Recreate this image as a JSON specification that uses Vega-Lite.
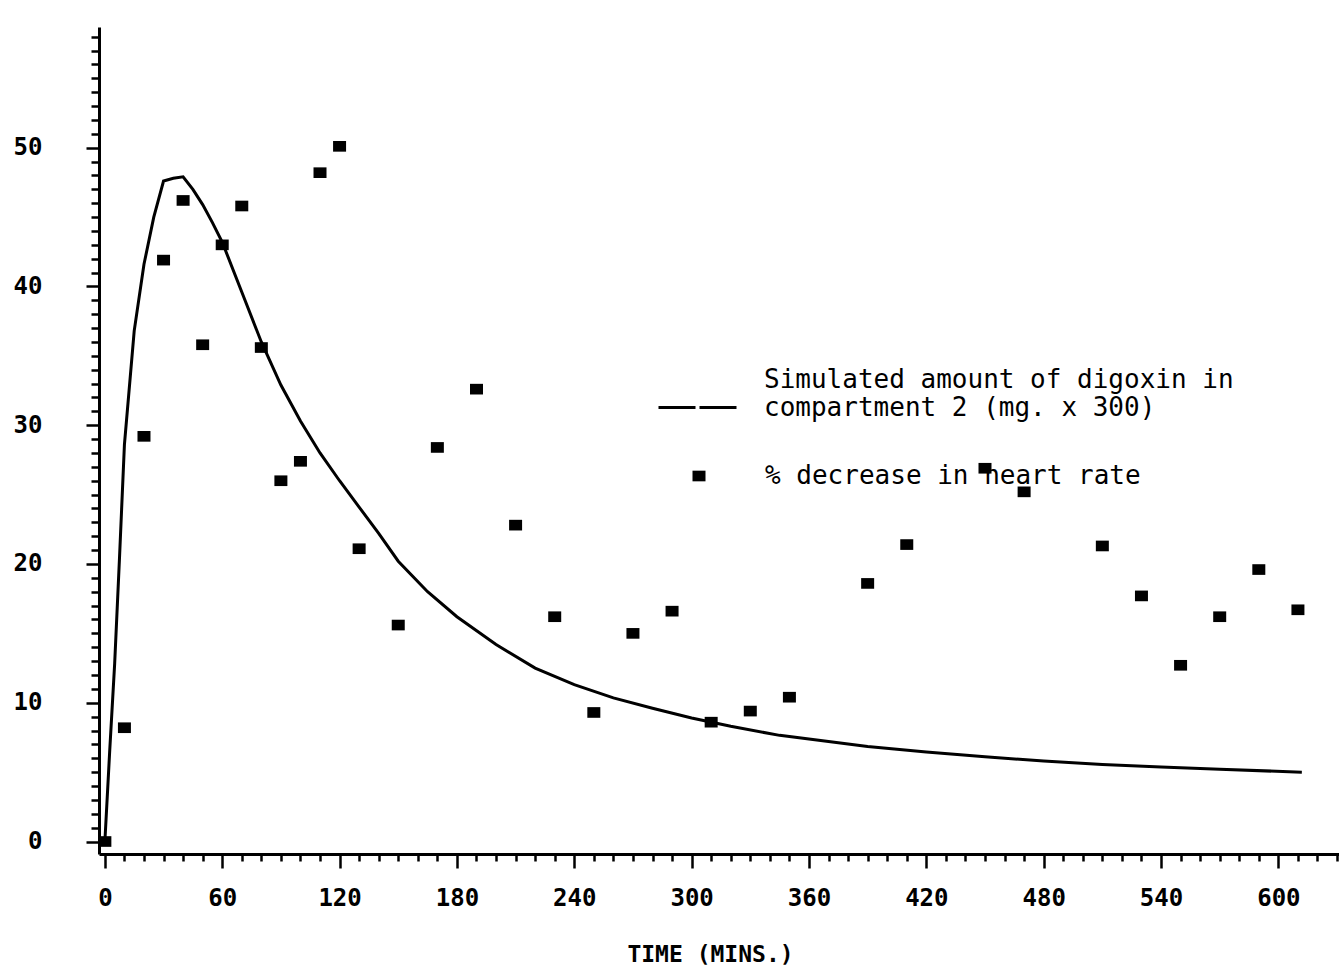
{
  "$schema": "https://vega.github.io/schema/vega-lite/v6.json",
  "width": 1240,
  "height": 827,
  "autosize": {"type": "none"},
  "padding": {"left": 99, "top": 27, "right": 0, "bottom": 113},
  "background": "white",
  "config": {
    "font": "DejaVu Sans Mono",
    "view": {"stroke": null},
    "axis": {"grid": false, "domainColor": "black", "tickColor": "black", "labelColor": "black", "titleColor": "black"}
  },
  "datasets": {
    "simulated": [
      {"t": 0, "v": 0}, {"t": 2.5, "v": 6.6}, {"t": 5, "v": 12.8}, {"t": 7.5, "v": 20.5},
      {"t": 10, "v": 28.6}, {"t": 15, "v": 36.8}, {"t": 20, "v": 41.6}, {"t": 25, "v": 45.0},
      {"t": 30, "v": 47.6}, {"t": 35, "v": 47.8}, {"t": 40, "v": 47.9}, {"t": 45, "v": 47.0},
      {"t": 50, "v": 45.9}, {"t": 55, "v": 44.6}, {"t": 60, "v": 43.2}, {"t": 70, "v": 39.6},
      {"t": 80, "v": 36.0}, {"t": 90, "v": 32.9}, {"t": 100, "v": 30.3}, {"t": 110, "v": 28.0},
      {"t": 120, "v": 26.0}, {"t": 130, "v": 24.1}, {"t": 140, "v": 22.2}, {"t": 150, "v": 20.2},
      {"t": 165, "v": 18.0}, {"t": 180, "v": 16.2}, {"t": 200, "v": 14.2}, {"t": 220, "v": 12.5},
      {"t": 240, "v": 11.3}, {"t": 260, "v": 10.35}, {"t": 280, "v": 9.6}, {"t": 300, "v": 8.9},
      {"t": 320, "v": 8.3}, {"t": 345, "v": 7.65}, {"t": 370, "v": 7.2}, {"t": 390, "v": 6.85},
      {"t": 420, "v": 6.45}, {"t": 450, "v": 6.1}, {"t": 480, "v": 5.8}, {"t": 510, "v": 5.55},
      {"t": 540, "v": 5.37}, {"t": 570, "v": 5.2}, {"t": 612, "v": 5.0}
    ],
    "heartRate": [
      {"t": 0, "v": 0}, {"t": 10, "v": 8.2}, {"t": 20, "v": 29.2}, {"t": 30, "v": 41.9},
      {"t": 40, "v": 46.2}, {"t": 50, "v": 35.8}, {"t": 60, "v": 43.0}, {"t": 70, "v": 45.8},
      {"t": 80, "v": 35.6}, {"t": 90, "v": 26.0}, {"t": 100, "v": 27.4}, {"t": 110, "v": 48.2},
      {"t": 120, "v": 50.1}, {"t": 130, "v": 21.1}, {"t": 150, "v": 15.6}, {"t": 170, "v": 28.4},
      {"t": 190, "v": 32.6}, {"t": 210, "v": 22.8}, {"t": 230, "v": 16.2}, {"t": 250, "v": 9.3},
      {"t": 270, "v": 15.0}, {"t": 290, "v": 16.6}, {"t": 310, "v": 8.6}, {"t": 330, "v": 9.4},
      {"t": 350, "v": 10.4}, {"t": 390, "v": 18.6}, {"t": 410, "v": 21.4}, {"t": 450, "v": 26.9},
      {"t": 470, "v": 25.2}, {"t": 510, "v": 21.3}, {"t": 530, "v": 17.7}, {"t": 550, "v": 12.7},
      {"t": 570, "v": 16.2}, {"t": 590, "v": 19.6}, {"t": 610, "v": 16.7}
    ]
  },
  "encoding": {
    "x": {
      "field": "t",
      "type": "quantitative",
      "scale": {"domain": [-3, 631], "nice": false, "zero": false},
      "axis": {
        "values": [0,10,20,30,40,50,60,70,80,90,100,110,120,130,140,150,160,170,180,190,200,210,220,230,240,250,260,270,280,290,300,310,320,330,340,350,360,370,380,390,400,410,420,430,440,450,460,470,480,490,500,510,520,530,540,550,560,570,580,590,600,610,620,630],
        "labelExpr": "datum.value % 60 === 0 ? datum.label : ''",
        "tickSize": {"condition": {"test": "datum.value % 60 === 0", "value": 14}, "value": 7},
        "tickWidth": 2.5,
        "domainWidth": 3,
        "labelFont": "DejaVu Sans Mono",
        "labelFontWeight": "bold",
        "labelFontSize": 24,
        "labelPadding": 18,
        "labelFlush": false,
        "labelOverlap": false,
        "title": "TIME (MINS.)",
        "titleFont": "DejaVu Sans Mono",
        "titleFontWeight": "bold",
        "titleFontSize": 23,
        "titleX": 611,
        "titleY": 100,
        "titleBaseline": "middle"
      }
    },
    "y": {
      "field": "v",
      "type": "quantitative",
      "scale": {"domain": [-0.9, 58.7], "nice": false, "zero": false},
      "axis": {
        "values": [0,1,2,3,4,5,6,7,8,9,10,11,12,13,14,15,16,17,18,19,20,21,22,23,24,25,26,27,28,29,30,31,32,33,34,35,36,37,38,39,40,41,42,43,44,45,46,47,48,49,50,51,52,53,54,55,56,57,58],
        "labelExpr": "datum.value % 10 === 0 ? datum.label : ''",
        "tickSize": {"condition": {"test": "datum.value % 10 === 0", "value": 13}, "value": 8},
        "tickWidth": 2.5,
        "domainWidth": 3,
        "labelFont": "DejaVu Sans Mono",
        "labelFontWeight": "bold",
        "labelFontSize": 24,
        "labelPadding": 44,
        "labelFlush": false,
        "labelOverlap": false,
        "title": null
      }
    }
  },
  "layer": [
    {
      "data": {"name": "simulated"},
      "mark": {"type": "line", "strokeWidth": 3},
      "encoding": {
        "color": {
          "datum": "Simulated amount of digoxin in compartment 2 (mg. x 300)",
          "scale": {"range": ["black"]},
          "legend": {
            "orient": "none",
            "legendX": 558,
            "legendY": 340,
            "title": null,
            "padding": 0,
            "symbolType": "stroke",
            "symbolSize": 6084,
            "symbolStrokeWidth": 3,
            "symbolDash": [37, 4],
            "labelExpr": "['Simulated amount of digoxin in', 'compartment 2 (mg. x 300)']",
            "labelFont": "DejaVu Sans Mono",
            "labelFontSize": 26,
            "labelColor": "black",
            "labelLimit": 0,
            "labelOffset": 26,
            "labelBaseline": "middle",
            "encode": {"labels": {"update": {"dy": {"value": -28}}}}
          }
        }
      }
    },
    {
      "data": {"name": "heartRate"},
      "mark": {"type": "point", "filled": true, "color": "black", "opacity": 1, "size": 169, "strokeWidth": 0},
      "encoding": {
        "shape": {
          "datum": "% decrease in heart rate",
          "scale": {"range": ["M-1,-0.82H1V0.82H-1Z"]},
          "legend": {
            "orient": "none",
            "legendX": 587,
            "legendY": 436,
            "title": null,
            "padding": 0,
            "symbolSize": 169,
            "symbolFillColor": "black",
            "symbolStrokeWidth": 0,
            "labelFont": "DejaVu Sans Mono",
            "labelFontSize": 26,
            "labelColor": "black",
            "labelLimit": 0,
            "labelOffset": 53
          }
        }
      }
    }
  ]
}
